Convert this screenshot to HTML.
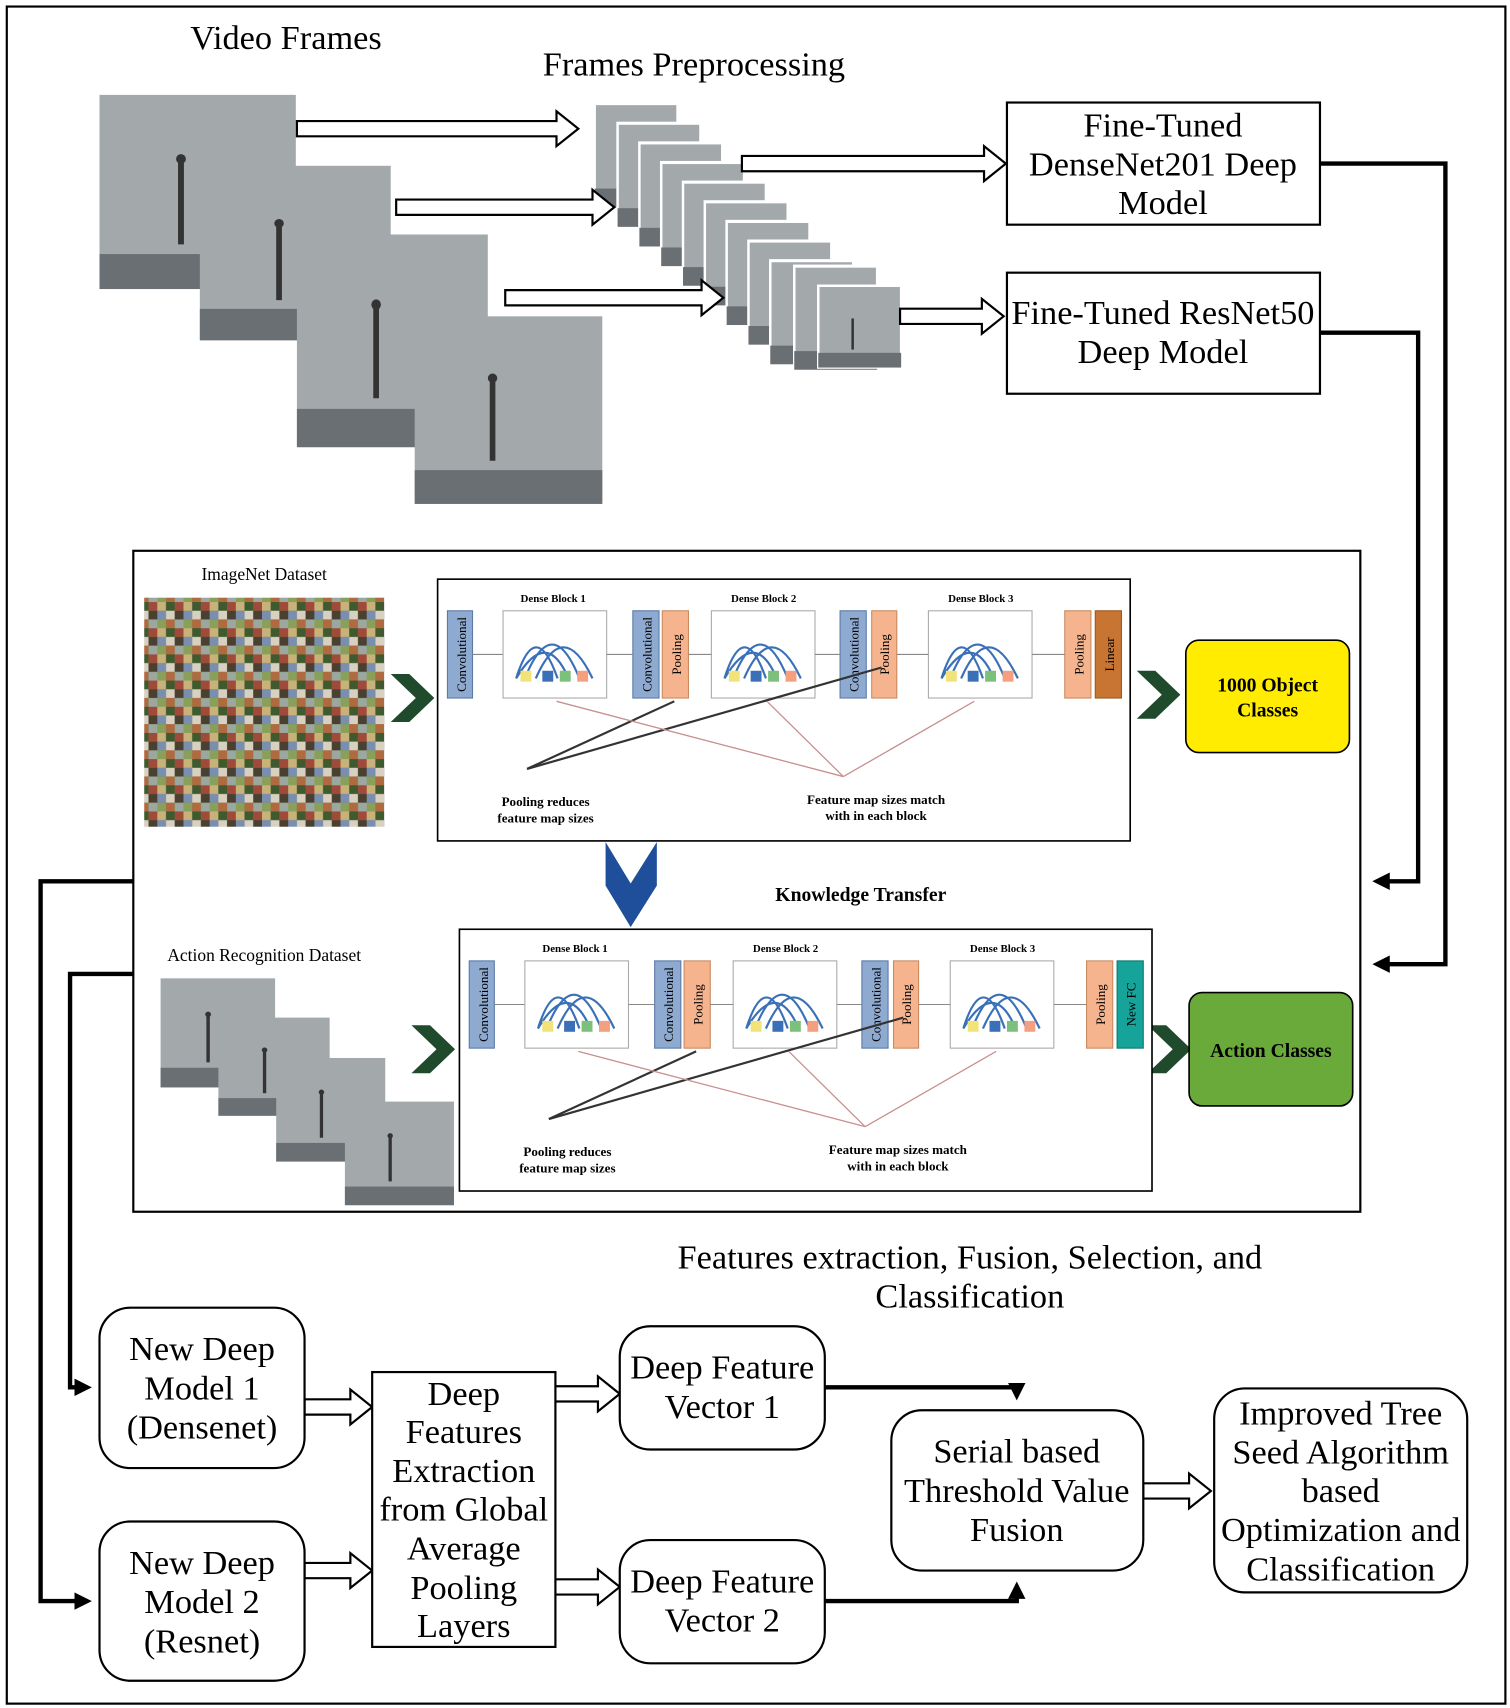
<!DOCTYPE html>
<html><head><meta charset="utf-8"><style>
html,body{margin:0;padding:0;background:#fff;}
svg{display:block;}
text{font-family:"Liberation Serif",serif;}
</style></head><body>
<svg width="1510" height="1708" viewBox="0 0 1384 1566" xmlns="http://www.w3.org/2000/svg">
<defs>
  <pattern id="mosaic" width="24" height="24" patternUnits="userSpaceOnUse">
    <rect width="24" height="24" fill="#6b7a4a"/>
    <rect x="0" y="0" width="8" height="8" fill="#c9b27a"/>
    <rect x="8" y="0" width="8" height="8" fill="#3e5a2e"/>
    <rect x="16" y="0" width="8" height="8" fill="#a04a3a"/>
    <rect x="0" y="8" width="8" height="8" fill="#7a8fb0"/>
    <rect x="8" y="8" width="8" height="8" fill="#d8d0c0"/>
    <rect x="16" y="8" width="8" height="8" fill="#4a4030"/>
    <rect x="0" y="16" width="8" height="8" fill="#8aa05a"/>
    <rect x="8" y="16" width="8" height="8" fill="#b06a40"/>
    <rect x="16" y="16" width="8" height="8" fill="#9aa8a0"/>
  </pattern>
  <g id="frame">
    <rect width="100" height="100" fill="#a3a8ab"/>
    <rect y="82" width="100" height="18" fill="#6a6f74"/>
    <rect x="40" y="35" width="3" height="42" fill="#333"/>
    <circle cx="41.5" cy="33" r="2.5" fill="#333"/>
  </g>
  <g id="sframe">
    <rect width="100" height="100" fill="#a3a8ab" stroke="#fff" stroke-width="3"/>
    <rect y="82" width="100" height="18" fill="#6a6f74"/>
    <rect x="40" y="40" width="3" height="38" fill="#333"/>
  </g>
  <g id="dblock">
    <rect width="95" height="80" fill="#fff" stroke="#aaa"/>
    <path d="M12 62 Q30 5 50 62 M20 62 Q45 0 70 62 M30 62 Q55 5 82 62 M12 62 Q40 15 60 62" fill="none" stroke="#3a70b8" stroke-width="2"/>
    <rect x="16" y="55" width="10" height="10" fill="#f2e27a"/>
    <rect x="36" y="55" width="10" height="10" fill="#3a70b8"/>
    <rect x="52" y="55" width="10" height="10" fill="#7bc07b"/>
    <rect x="68" y="55" width="10" height="10" fill="#f4a080"/>
  </g>
  <marker id="ah" markerWidth="16" markerHeight="16" refX="12" refY="8" orient="auto" markerUnits="userSpaceOnUse"><path d="M0 0 L16 8 L0 16 Z" fill="#000"/></marker>
</defs>

<rect x="6" y="6" width="1374" height="1556" fill="#fff" stroke="#000" stroke-width="2"/>

<text x="262" y="45" font-size="31.5" text-anchor="middle">Video Frames</text>
<text x="636" y="69" font-size="31.5" text-anchor="middle">Frames Preprocessing</text>

<g transform="translate(91,87) scale(1.8,1.78)"><use href="#frame"/></g>
<g transform="translate(183,152) scale(1.75,1.6)"><use href="#frame"/></g>
<g transform="translate(272,215) scale(1.75,1.95)"><use href="#frame"/></g>
<g transform="translate(380,290) scale(1.72,1.72)"><use href="#frame"/></g>

<g>
<g transform="translate(545,95) scale(0.76,0.95)"><use href="#sframe"/></g>
<g transform="translate(566,113) scale(0.76,0.95)"><use href="#sframe"/></g>
<g transform="translate(586,131) scale(0.76,0.95)"><use href="#sframe"/></g>
<g transform="translate(606,149) scale(0.76,0.95)"><use href="#sframe"/></g>
<g transform="translate(626,167) scale(0.76,0.95)"><use href="#sframe"/></g>
<g transform="translate(646,185) scale(0.76,0.95)"><use href="#sframe"/></g>
<g transform="translate(666,203) scale(0.76,0.95)"><use href="#sframe"/></g>
<g transform="translate(686,221) scale(0.76,0.95)"><use href="#sframe"/></g>
<g transform="translate(706,239) scale(0.76,0.95)"><use href="#sframe"/></g>
<g transform="translate(728,244) scale(0.76,0.95)"><use href="#sframe"/></g>
<g transform="translate(750,262) scale(0.76,0.75)"><use href="#sframe"/></g>
</g>

<g fill="#fff" stroke="#000" stroke-width="2">
<path d="M272 111 H510 V102 L530 118 L510 134 V125 H272 Z"/>
<path d="M363 183 H543 V174 L563 190 L543 206 V197 H363 Z"/>
<path d="M463 266 H643 V257 L663 273 L643 289 V280 H463 Z"/>
<path d="M680 143 H902 V134 L922 150 L902 166 V157 H680 Z"/>
<path d="M825 283 H900 V274 L920 290 L900 306 V297 H825 Z"/>
<path d="M279 1283 H321 V1274 L341 1290 L321 1306 V1297 H279 Z"/>
<path d="M279 1433 H321 V1424 L341 1440 L321 1456 V1447 H279 Z"/>
<path d="M509 1271 H548 V1262 L568 1278 L548 1294 V1285 H509 Z"/>
<path d="M509 1448 H548 V1439 L568 1455 L548 1471 V1462 H509 Z"/>
<path d="M1048 1360 H1090 V1351 L1110 1367 L1090 1383 V1374 H1048 Z"/>
</g>

<rect x="923" y="94" width="287" height="112" fill="#fff" stroke="#000" stroke-width="2"/>
<text font-size="31.5" text-anchor="middle"><tspan x="1066" y="125">Fine-Tuned</tspan><tspan x="1066" y="161">DenseNet201 Deep</tspan><tspan x="1066" y="196">Model</tspan></text>
<rect x="923" y="250" width="287" height="111" fill="#fff" stroke="#000" stroke-width="2"/>
<text font-size="31.5" text-anchor="middle"><tspan x="1066" y="297">Fine-Tuned ResNet50</tspan><tspan x="1066" y="333">Deep Model</tspan></text>

<g fill="none" stroke="#000" stroke-width="4">
<path d="M1210 150 H1325 V884 H1262" marker-end="url(#ah)"/>
<path d="M1210 305 H1300 V808 H1262" marker-end="url(#ah)"/>
<path d="M122 808 H37 V1468 H80" marker-end="url(#ah)"/>
<path d="M122 893 H64 V1272 H80" marker-end="url(#ah)"/>
<path d="M756 1272 H932 V1280" marker-end="url(#ah)"/>
<path d="M756 1468 H932 V1454" marker-end="url(#ah)"/>
</g>

<rect x="122" y="505" width="1125" height="606" fill="#fff" stroke="#000" stroke-width="2"/>
<text x="242" y="532" font-size="16" text-anchor="middle">ImageNet Dataset</text>
<rect x="132" y="548" width="220" height="210" fill="url(#mosaic)"/>
<text x="242" y="881" font-size="16" text-anchor="middle">Action Recognition Dataset</text>
<g transform="translate(147,897) scale(1.05,1.0)"><use href="#frame"/></g>
<g transform="translate(200,933) scale(1.02,0.9)"><use href="#frame"/></g>
<g transform="translate(253,970) scale(1.0,0.95)"><use href="#frame"/></g>
<g transform="translate(316,1010) scale(1.0,0.95)"><use href="#frame"/></g>

<g fill="#1f4a2c">
<path d="M358 618 L375 618 L398 640 L375 662 L358 662 L381 640 Z"/>
<path d="M1042 615 L1059 615 L1082 637 L1059 659 L1042 659 L1065 637 Z"/>
<path d="M377 940 L394 940 L417 962 L394 984 L377 984 L400 962 Z"/>
<path d="M1052 940 L1069 940 L1092 962 L1069 984 L1052 984 L1075 962 Z"/>
</g>
<path d="M555 772 L578 810 L602 772 L602 812 L578 850 L555 812 Z" fill="#1f4e9a"/>
<text x="789" y="826" font-size="18" font-weight="bold" text-anchor="middle">Knowledge Transfer</text>

<g>
<rect x="401" y="531" width="635" height="240" fill="#fff" stroke="#000" stroke-width="1.5"/>
<rect x="410" y="560" width="23" height="80" fill="#8eaad0" stroke="#5a7aa8"/>
<text transform="translate(427,600) rotate(-90)" font-size="12" text-anchor="middle">Convolutional</text>
<line x1="433" y1="600" x2="461" y2="600" stroke="#888"/>
<use href="#dblock" x="461" y="560"/>
<text x="507" y="552" font-size="10" font-weight="bold" text-anchor="middle">Dense Block 1</text>
<rect x="580" y="560" width="24" height="80" fill="#8eaad0" stroke="#5a7aa8"/>
<text transform="translate(597,600) rotate(-90)" font-size="12" text-anchor="middle">Convolutional</text>
<rect x="607" y="560" width="24" height="80" fill="#f6b48e" stroke="#c98a60"/>
<text transform="translate(624,600) rotate(-90)" font-size="12" text-anchor="middle">Pooling</text>
<use href="#dblock" x="652" y="560"/>
<text x="700" y="552" font-size="10" font-weight="bold" text-anchor="middle">Dense Block 2</text>
<rect x="770" y="560" width="24" height="80" fill="#8eaad0" stroke="#5a7aa8"/>
<text transform="translate(787,600) rotate(-90)" font-size="12" text-anchor="middle">Convolutional</text>
<rect x="799" y="560" width="23" height="80" fill="#f6b48e" stroke="#c98a60"/>
<text transform="translate(815,600) rotate(-90)" font-size="12" text-anchor="middle">Pooling</text>
<use href="#dblock" x="851" y="560"/>
<text x="899" y="552" font-size="10" font-weight="bold" text-anchor="middle">Dense Block 3</text>
<rect x="976" y="560" width="24" height="80" fill="#f6b48e" stroke="#c98a60"/>
<text transform="translate(993,600) rotate(-90)" font-size="12" text-anchor="middle">Pooling</text>
<rect x="1004" y="560" width="24" height="80" fill="#c87533" stroke="#9a5a20"/>
<text transform="translate(1021,600) rotate(-90)" font-size="12" text-anchor="middle">Linear</text>
<line x1="556" y1="600" x2="580" y2="600" stroke="#888"/>
<line x1="631" y1="600" x2="652" y2="600" stroke="#888"/>
<line x1="747" y1="600" x2="770" y2="600" stroke="#888"/>
<line x1="822" y1="600" x2="851" y2="600" stroke="#888"/>
<line x1="946" y1="600" x2="976" y2="600" stroke="#888"/>
<g stroke="#333" stroke-width="2"><line x1="483" y1="705" x2="618" y2="643"/><line x1="483" y1="705" x2="808" y2="612"/></g>
<g stroke="#c89090" stroke-width="1.2"><line x1="773" y1="712" x2="510" y2="643"/><line x1="773" y1="712" x2="703" y2="643"/><line x1="773" y1="712" x2="893" y2="643"/></g>
<text font-size="12" font-weight="bold" text-anchor="middle"><tspan x="500" y="739">Pooling reduces</tspan><tspan x="500" y="754">feature map sizes</tspan></text>
<text font-size="12" font-weight="bold" text-anchor="middle"><tspan x="803" y="737">Feature map sizes match</tspan><tspan x="803" y="752">with in each block</tspan></text>
</g>

<g transform="translate(20,321)">
<rect x="401" y="531" width="635" height="240" fill="#fff" stroke="#000" stroke-width="1.5"/>
<rect x="410" y="560" width="23" height="80" fill="#8eaad0" stroke="#5a7aa8"/>
<text transform="translate(427,600) rotate(-90)" font-size="12" text-anchor="middle">Convolutional</text>
<line x1="433" y1="600" x2="461" y2="600" stroke="#888"/>
<use href="#dblock" x="461" y="560"/>
<text x="507" y="552" font-size="10" font-weight="bold" text-anchor="middle">Dense Block 1</text>
<rect x="580" y="560" width="24" height="80" fill="#8eaad0" stroke="#5a7aa8"/>
<text transform="translate(597,600) rotate(-90)" font-size="12" text-anchor="middle">Convolutional</text>
<rect x="607" y="560" width="24" height="80" fill="#f6b48e" stroke="#c98a60"/>
<text transform="translate(624,600) rotate(-90)" font-size="12" text-anchor="middle">Pooling</text>
<use href="#dblock" x="652" y="560"/>
<text x="700" y="552" font-size="10" font-weight="bold" text-anchor="middle">Dense Block 2</text>
<rect x="770" y="560" width="24" height="80" fill="#8eaad0" stroke="#5a7aa8"/>
<text transform="translate(787,600) rotate(-90)" font-size="12" text-anchor="middle">Convolutional</text>
<rect x="799" y="560" width="23" height="80" fill="#f6b48e" stroke="#c98a60"/>
<text transform="translate(815,600) rotate(-90)" font-size="12" text-anchor="middle">Pooling</text>
<use href="#dblock" x="851" y="560"/>
<text x="899" y="552" font-size="10" font-weight="bold" text-anchor="middle">Dense Block 3</text>
<rect x="976" y="560" width="24" height="80" fill="#f6b48e" stroke="#c98a60"/>
<text transform="translate(993,600) rotate(-90)" font-size="12" text-anchor="middle">Pooling</text>
<rect x="1004" y="560" width="24" height="80" fill="#16a39a" stroke="#0c7a72"/>
<text transform="translate(1021,600) rotate(-90)" font-size="12" text-anchor="middle">New FC</text>
<line x1="556" y1="600" x2="580" y2="600" stroke="#888"/>
<line x1="631" y1="600" x2="652" y2="600" stroke="#888"/>
<line x1="747" y1="600" x2="770" y2="600" stroke="#888"/>
<line x1="822" y1="600" x2="851" y2="600" stroke="#888"/>
<line x1="946" y1="600" x2="976" y2="600" stroke="#888"/>
<g stroke="#333" stroke-width="2"><line x1="483" y1="705" x2="618" y2="643"/><line x1="483" y1="705" x2="808" y2="612"/></g>
<g stroke="#c89090" stroke-width="1.2"><line x1="773" y1="712" x2="510" y2="643"/><line x1="773" y1="712" x2="703" y2="643"/><line x1="773" y1="712" x2="893" y2="643"/></g>
<text font-size="12" font-weight="bold" text-anchor="middle"><tspan x="500" y="739">Pooling reduces</tspan><tspan x="500" y="754">feature map sizes</tspan></text>
<text font-size="12" font-weight="bold" text-anchor="middle"><tspan x="803" y="737">Feature map sizes match</tspan><tspan x="803" y="752">with in each block</tspan></text>
</g>

<rect x="1087" y="587" width="150" height="103" rx="12" fill="#ffec00" stroke="#000" stroke-width="1.5"/>
<text font-size="18" font-weight="bold" text-anchor="middle"><tspan x="1162" y="634">1000 Object</tspan><tspan x="1162" y="657">Classes</tspan></text>
<rect x="1090" y="910" width="150" height="104" rx="12" fill="#6aaa3a" stroke="#000" stroke-width="1.5"/>
<text x="1165" y="969" font-size="18" font-weight="bold" text-anchor="middle">Action Classes</text>

<text font-size="31.5" text-anchor="middle"><tspan x="889" y="1163">Features extraction, Fusion, Selection, and</tspan><tspan x="889" y="1199">Classification</tspan></text>
<g fill="#fff" stroke="#000" stroke-width="2">
<rect x="91" y="1199" width="188" height="147" rx="28"/>
<rect x="91" y="1395" width="188" height="146" rx="28"/>
<rect x="341" y="1258" width="168" height="252"/>
<rect x="568" y="1216" width="188" height="113" rx="28"/>
<rect x="568" y="1412" width="188" height="113" rx="28"/>
<rect x="817" y="1293" width="231" height="147" rx="28"/>
<rect x="1113" y="1273" width="232" height="187" rx="28"/>
</g>
<g font-size="31.5" text-anchor="middle">
<text><tspan x="185" y="1247">New Deep</tspan><tspan x="185" y="1283">Model 1</tspan><tspan x="185" y="1319">(Densenet)</tspan></text>
<text><tspan x="185" y="1443">New Deep</tspan><tspan x="185" y="1479">Model 2</tspan><tspan x="185" y="1515">(Resnet)</tspan></text>
<text><tspan x="425" y="1288">Deep</tspan><tspan x="425" y="1323">Features</tspan><tspan x="425" y="1359">Extraction</tspan><tspan x="425" y="1394">from Global</tspan><tspan x="425" y="1430">Average</tspan><tspan x="425" y="1466">Pooling</tspan><tspan x="425" y="1501">Layers</tspan></text>
<text><tspan x="662" y="1264">Deep Feature</tspan><tspan x="662" y="1300">Vector 1</tspan></text>
<text><tspan x="662" y="1460">Deep Feature</tspan><tspan x="662" y="1496">Vector 2</tspan></text>
<text><tspan x="932" y="1341">Serial based</tspan><tspan x="932" y="1377">Threshold Value</tspan><tspan x="932" y="1413">Fusion</tspan></text>
<text><tspan x="1229" y="1306">Improved Tree</tspan><tspan x="1229" y="1342">Seed Algorithm</tspan><tspan x="1229" y="1377">based</tspan><tspan x="1229" y="1413">Optimization and</tspan><tspan x="1229" y="1449">Classification</tspan></text>
</g>
</svg>
</body></html>
